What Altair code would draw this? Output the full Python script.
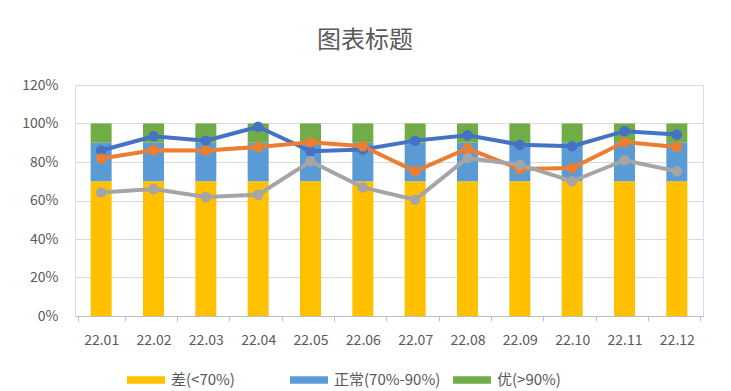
import altair as alt
import pandas as pd

months = ["22.01", "22.02", "22.03", "22.04", "22.05", "22.06",
          "22.07", "22.08", "22.09", "22.10", "22.11", "22.12"]

band_names = ["差(<70%)", "正常(70%-90%)", "优(>90%)"]
band_values = [0.70, 0.20, 0.10]
band_colors = ["#FFC000", "#5B9BD5", "#70AD47"]

series_names = ["A", "B", "C"]
series_colors = ["#4472C4", "#ED7D31", "#A5A5A5"]
line_blue = [0.86, 0.934, 0.911, 0.983, 0.856, 0.865, 0.911, 0.939, 0.89, 0.882, 0.96, 0.943]
line_orange = [0.818, 0.861, 0.86, 0.878, 0.903, 0.882, 0.752, 0.87, 0.764, 0.769, 0.904, 0.878]
line_gray = [0.642, 0.66, 0.618, 0.63, 0.804, 0.668, 0.604, 0.821, 0.786, 0.70, 0.809, 0.752]
y_ticks = [0, 0.2, 0.4, 0.6, 0.8, 1.0, 1.2]

FONT = "Noto Sans CJK SC"
TXT = "#595959"

bar_rows = []
for m in months:
    for i, (n, v) in enumerate(zip(band_names, band_values)):
        bar_rows.append({"month": m, "category": n, "value": v, "ord": i})
bars_df = pd.DataFrame(bar_rows)

line_rows = []
for s, vals in zip(series_names, [line_blue, line_orange, line_gray]):
    for m, v in zip(months, vals):
        line_rows.append({"month": m, "series": s, "value": v})
lines_df = pd.DataFrame(line_rows)

x_axis = alt.Axis(labelAngle=0, labelFont=FONT, labelFontSize=14, labelColor=TXT,
                  domainColor="#BFBFBF", tickColor="#BFBFBF", tickSize=5,
                  tickBand="extent", labelPadding=12, grid=False)
y_axis = alt.Axis(format=".0%", values=y_ticks, tickCount=12, labelOverlap=False,
                  labelFont=FONT, labelFontSize=14, labelColor=TXT,
                  domain=False, ticks=False, labelPadding=17,
                  gridColor="#D9D9D9", gridWidth=1)
y_scale = alt.Scale(domain=[0, 1.2], nice=False)

bars = alt.Chart(bars_df).mark_bar(size=21).encode(
    x=alt.X("month:N", sort=months, title=None, axis=x_axis),
    y=alt.Y("value:Q", stack="zero", scale=y_scale, title=None, axis=y_axis),
    color=alt.Color("category:N",
                    scale=alt.Scale(domain=band_names, range=band_colors),
                    legend=alt.Legend(title=None, orient="none", direction="horizontal",
                                      legendX=52, legendY=276, gridAlign="all",
                                      symbolType="M-1,-0.2H1V0.2H-1Z", symbolSize=1444,
                                      symbolStrokeWidth=0, symbolOpacity=1,
                                      labelFont=FONT, labelFontSize=15, labelColor=TXT,
                                      labelOffset=6, columnPadding=12, labelLimit=300)),
    order=alt.Order("ord:Q"),
)

line_color = alt.Color("series:N", scale=alt.Scale(domain=series_names, range=series_colors),
                       legend=None)

lines = alt.Chart(lines_df).mark_line(strokeWidth=4).encode(
    x=alt.X("month:N", sort=months),
    y=alt.Y("value:Q", scale=y_scale),
    color=line_color,
    detail="series:N",
)
points = alt.Chart(lines_df).mark_point(filled=True, size=110, opacity=1).encode(
    x=alt.X("month:N", sort=months),
    y=alt.Y("value:Q", scale=y_scale),
    color=line_color,
)

chart = alt.layer(bars, lines, points).resolve_scale(color="independent").properties(
    width=628, height=231,
    autosize=alt.AutoSizeParams(type="none"),
    padding={"left": 67, "top": 77, "right": 20, "bottom": 75},
    title=alt.TitleParams("图表标题", font=FONT, fontSize=24, fontWeight="normal",
                          color=TXT, anchor="middle", dx=-24, offset=25),
).configure_view(strokeWidth=0).configure(background="white")

chart.save("out.html", embed_options={"renderer": "svg", "actions": False})
